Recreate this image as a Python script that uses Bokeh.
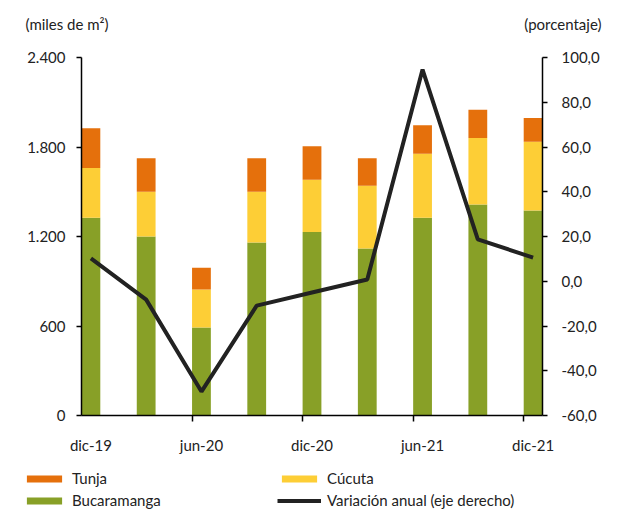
from bokeh.plotting import figure
from bokeh.layouts import column
from bokeh.models import (Range1d, LinearAxis, FixedTicker, Legend, LegendItem, ColumnDataSource)
from bokeh.core.properties import value
from bokeh.embed import file_html
from bokeh.resources import INLINE

periods = ["dic-19", "mar-20", "jun-20", "sep-20", "dic-20", "mar-21", "jun-21", "sep-21", "dic-21"]
bucaramanga = [1325, 1200, 590, 1160, 1230, 1120, 1325, 1415, 1375]
cucuta = [335, 300, 255, 340, 350, 420, 430, 445, 460]
tunja = [265, 225, 145, 225, 225, 185, 190, 190, 160]
variacion = [10.2, -8.2, -49.3, -10.9, -5.0, 0.8, 94.6, 18.7, 10.6]

left_ticks = [0, 600, 1200, 1800, 2400]
left_labels = ["0", "600", "1.200", "1.800", "2.400"]
right_ticks = [-60, -40, -20, 0, 20, 40, 60, 80, 100]
right_labels = ["-60,0", "-40,0", "-20,0", "0,0", "20,0", "40,0", "60,0", "80,0", "100,0"]
shown = ["dic-19", "jun-20", "dic-20", "jun-21", "dic-21"]
left_title = "(miles de m²)"
right_title = "(porcentaje)"
series_names = ["Tunja", "Cúcuta", "Bucaramanga", "Variación anual (eje derecho)"]

FONT = "Lato"
TXT = "#222222"
ORANGE = "#E5700C"
YELLOW = "#FDCE36"
GREEN = "#88A027"
W = 602


def bare(fig):
    fig.outline_line_color = None
    fig.xgrid.visible = False
    fig.ygrid.visible = False
    fig.xaxis.visible = False
    fig.yaxis.visible = False
    fig.min_border = 0
    fig.frame_align = False
    return fig


# ---- header with the two axis titles ----
H_HEAD = 40
head = bare(figure(width=W, height=H_HEAD, output_backend="svg", toolbar_location=None,
                   x_range=Range1d(0, W), y_range=Range1d(H_HEAD, 0)))
head.text(x=[25], y=[23], text=[left_title], text_font=value(FONT), text_font_size=value("15px"),
          text_color=TXT, text_baseline="middle", text_align="left")
head.text(x=[601], y=[23], text=[right_title], text_font=value(FONT), text_font_size=value("15px"),
          text_color=TXT, text_baseline="middle", text_align="right")

# ---- main chart ----
x = list(range(len(periods)))
src = ColumnDataSource(dict(x=x, buc=bucaramanga, cuc=cucuta, tun=tunja, var=variacion))

p = figure(width=W, height=418, output_backend="svg", toolbar_location=None,
           x_range=Range1d(-0.17, 8.17), y_range=Range1d(0, 2400),
           min_border_left=81, min_border_right=53, min_border_top=17, min_border_bottom=43)
p.outline_line_color = None
p.xgrid.visible = False
p.ygrid.visible = False
p.extra_y_ranges = {"pct": Range1d(-60, 100)}

stack = p.vbar_stack(["buc", "cuc", "tun"], x="x", width=0.34, source=src,
                     color=[GREEN, YELLOW, ORANGE], line_color=None)
ln = p.line("x", "var", source=src, y_range_name="pct", line_color=TXT, line_width=4)

xa = p.xaxis[0]
idx = [periods.index(s) for s in shown]
xa.ticker = FixedTicker(ticks=idx, minor_ticks=[i - 0.17 for i in idx if i > 0])
xa.major_label_overrides = {i: periods[i] for i in idx}
xa.major_tick_line_color = None
xa.minor_tick_in = 0
xa.minor_tick_out = 6
xa.minor_tick_line_color = "black"
xa.minor_tick_line_width = 1.5
xa.axis_line_width = 1.5
xa.major_label_standoff = 14
xa.major_label_text_font = FONT
xa.major_label_text_font_size = "15px"
xa.major_label_text_color = TXT

ya = p.yaxis[0]
ya.ticker = FixedTicker(ticks=left_ticks, minor_ticks=[])
ya.major_label_overrides = dict(zip(left_ticks, left_labels))
ya.major_tick_in = 0
ya.major_tick_out = 5
ya.major_tick_line_width = 1.5
ya.axis_line_width = 1.5
ya.minor_tick_line_color = None
ya.major_label_standoff = 11
ya.major_label_text_font = FONT
ya.major_label_text_font_size = "15px"
ya.major_label_text_color = TXT

ra = LinearAxis(y_range_name="pct", ticker=FixedTicker(ticks=right_ticks, minor_ticks=[]))
ra.major_label_overrides = dict(zip(right_ticks, right_labels))
ra.major_tick_in = 0
ra.major_tick_out = 5
ra.major_tick_line_width = 1.5
ra.axis_line_width = 1.5
ra.minor_tick_line_color = None
ra.major_label_standoff = 14
ra.major_label_text_font = FONT
ra.major_label_text_font_size = "15px"
ra.major_label_text_color = TXT
p.add_layout(ra, "right")

# ---- legend panel ----
H_LEG = 51
lg = bare(figure(width=W, height=H_LEG, output_backend="svg", toolbar_location=None,
                 x_range=Range1d(0, 1), y_range=Range1d(0, 1)))
r_t = lg.vbar(x=[0.5], bottom=[0], top=[0], width=0.1, color=ORANGE, line_color=None)
r_c = lg.vbar(x=[0.5], bottom=[0], top=[0], width=0.1, color=YELLOW, line_color=None)
r_b = lg.vbar(x=[0.5], bottom=[0], top=[0], width=0.1, color=GREEN, line_color=None)
r_l = lg.line(x=[0.5, 0.5], y=[0, 0], line_color=TXT, line_width=4)
legend = Legend(items=[
    LegendItem(label=series_names[0], renderers=[r_t]),
    LegendItem(label=series_names[1], renderers=[r_c]),
    LegendItem(label=series_names[2], renderers=[r_b]),
    LegendItem(label=series_names[3], renderers=[r_l]),
], orientation="horizontal", ncols=2, location=(22, 0),
    glyph_width=44, glyph_height=9, label_standoff=6, label_width=201, spacing=4,
    padding=0, margin=0, border_line_color=None, background_fill_alpha=0,
    label_text_font=FONT, label_text_font_size="15px", label_text_color=TXT)
lg.add_layout(legend)

layout = column(head, p, lg, spacing=0)
open("out.html", "w").write(file_html(layout, INLINE))
